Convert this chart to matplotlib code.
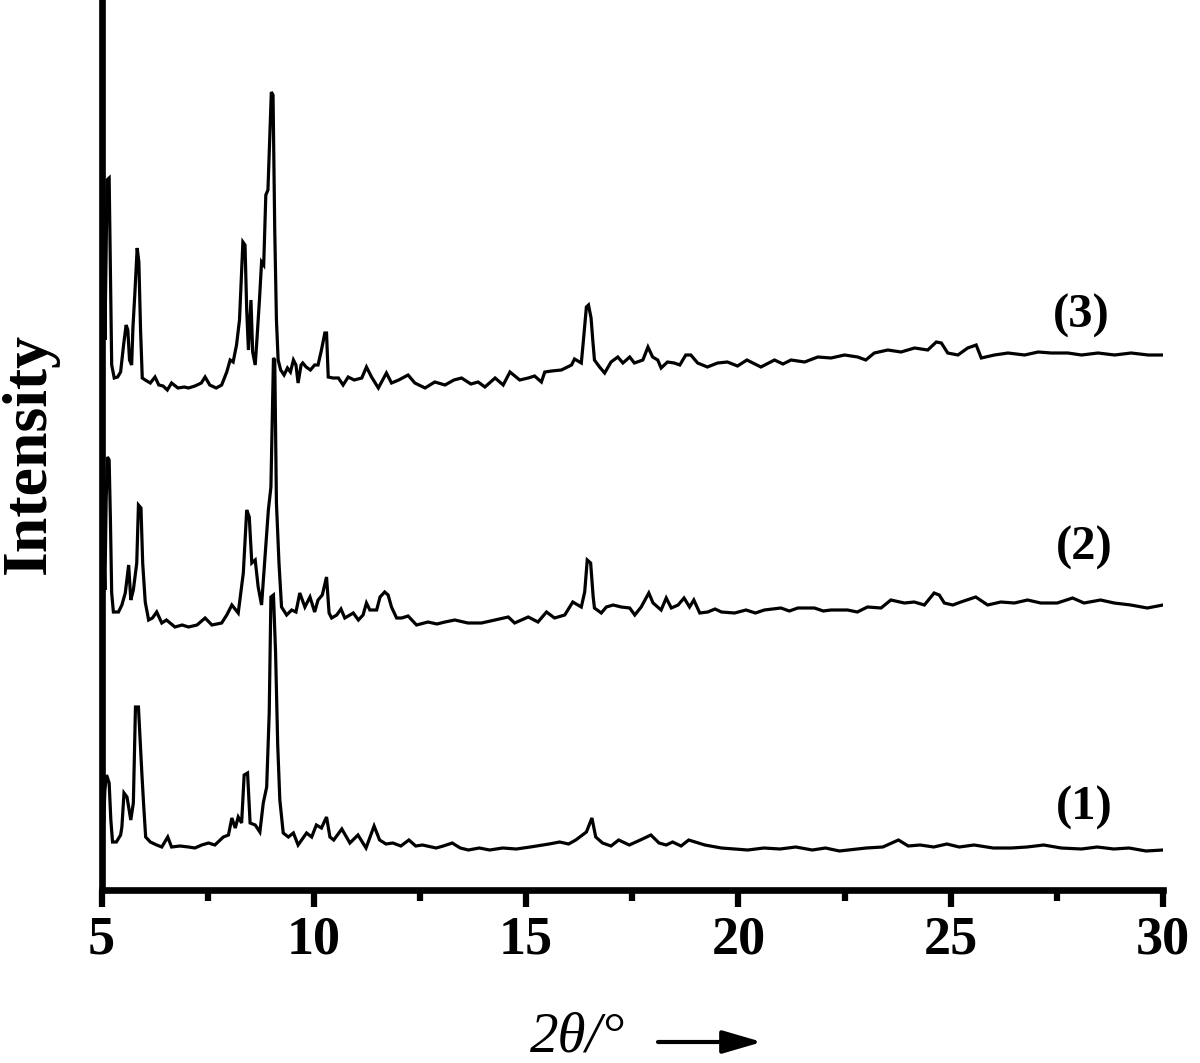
import numpy as np
import matplotlib
matplotlib.use("Agg")
import matplotlib.pyplot as plt
from matplotlib.ticker import MultipleLocator

# ---- data: (2theta, intensity a.u. above each trace's own baseline) ----
pattern1 = [
    (5.00, 50), (5.02, 75), (5.05, 27), (5.08, 60), (5.12, 75), (5.18, 67), (5.22, 30), (5.26, 8),
    (5.35, 8), (5.45, 15), (5.48, 23), (5.53, 57), (5.60, 53), (5.69, 30), (5.75, 47), (5.80, 143),
    (5.87, 143), (5.91, 110), (5.95, 77), (5.99, 47), (6.04, 13), (6.15, 8), (6.30, 5), (6.42, 3),
    (6.56, 13), (6.65, 3), (6.85, 4), (7.05, 3), (7.20, 2), (7.36, 5), (7.52, 7), (7.67, 5), (7.87, 13),
    (7.99, 15), (8.07, 32), (8.15, 22), (8.22, 33), (8.30, 27), (8.36, 75), (8.44, 77), (8.50, 27),
    (8.62, 25), (8.73, 18), (8.81, 47), (8.89, 63), (8.95, 137), (8.99, 253), (9.05, 255), (9.10, 197),
    (9.15, 105), (9.20, 50), (9.28, 17), (9.40, 13), (9.52, 17), (9.63, 5), (9.83, 17), (9.95, 13),
    (10.06, 25), (10.18, 22), (10.30, 33), (10.38, 13), (10.47, 10), (10.66, 21), (10.85, 7),
    (11.04, 15), (11.23, 2), (11.42, 24), (11.55, 10), (11.70, 6), (11.86, 7), (12.05, 4), (12.24, 10),
    (12.40, 4), (12.56, 5), (12.88, 2), (13.05, 4), (13.26, 7), (13.45, 2), (13.64, 0), (13.90, 2),
    (14.14, 0), (14.45, 2), (14.77, 1), (15.10, 3), (15.54, 6), (15.79, 8), (16.00, 6), (16.17, 10),
    (16.42, 18), (16.55, 32), (16.64, 13), (16.80, 7), (17.00, 4), (17.18, 10), (17.43, 5),
    (17.69, 10), (17.94, 15), (18.13, 7), (18.30, 5), (18.45, 8), (18.65, 4), (18.83, 10), (19.21, 5),
    (19.60, 2), (20.22, 0), (20.60, 2), (20.98, 1), (21.35, 3), (21.74, 0), (22.05, 2), (22.38, -1),
    (23.01, 2), (23.40, 3), (23.77, 10), (24.00, 4), (24.28, 5), (24.60, 3), (24.91, 6), (25.20, 3),
    (25.55, 5), (26.00, 2), (26.43, 2), (26.80, 3), (27.19, 5), (27.60, 2), (28.08, 1), (28.45, 3),
    (28.84, 1), (29.20, 2), (29.60, -1), (30.00, 0),
]

pattern2 = [
    (5.00, 65), (5.02, 225), (5.05, 85), (5.08, 35), (5.11, 125), (5.14, 168), (5.18, 165), (5.21, 105),
    (5.24, 32), (5.28, 13), (5.40, 13), (5.48, 20), (5.56, 32), (5.64, 60), (5.69, 25), (5.75, 35),
    (5.83, 62), (5.87, 120), (5.93, 117), (5.97, 62), (6.03, 23), (6.11, 5), (6.20, 7), (6.30, 13),
    (6.42, 2), (6.53, 5), (6.73, -2), (6.90, 0), (7.05, -2), (7.25, 0), (7.44, 7), (7.60, 0),
    (7.83, 2), (7.95, 10), (8.07, 20), (8.22, 12), (8.34, 52), (8.42, 115), (8.48, 108), (8.54, 62),
    (8.62, 65), (8.69, 38), (8.77, 20), (8.85, 68), (8.93, 115), (8.99, 138), (9.05, 267), (9.08, 265),
    (9.12, 122), (9.18, 62), (9.24, 18), (9.36, 10), (9.48, 15), (9.58, 13), (9.67, 32), (9.79, 18),
    (9.91, 28), (10.02, 13), (10.10, 25), (10.20, 30), (10.30, 48), (10.36, 12), (10.42, 7),
    (10.54, 10), (10.64, 16), (10.73, 7), (10.85, 10), (10.93, 12), (11.05, 5), (11.16, 10),
    (11.24, 22), (11.32, 15), (11.48, 15), (11.56, 28), (11.67, 33), (11.75, 30), (11.83, 18),
    (11.95, 7), (12.07, 7), (12.22, 9), (12.42, 0), (12.69, 3), (12.90, 1), (13.09, 3), (13.32, 5),
    (13.63, 2), (13.95, 2), (14.26, 5), (14.58, 8), (14.73, 2), (15.05, 8), (15.28, 3), (15.48, 13),
    (15.67, 7), (15.91, 10), (16.10, 23), (16.30, 18), (16.38, 33), (16.44, 65), (16.52, 62),
    (16.58, 28), (16.61, 17), (16.77, 12), (16.89, 18), (17.05, 20), (17.24, 18), (17.44, 17),
    (17.56, 10), (17.71, 18), (17.89, 32), (17.99, 22), (18.18, 15), (18.30, 27), (18.42, 17),
    (18.58, 20), (18.72, 27), (18.85, 18), (18.95, 25), (19.09, 12), (19.28, 13), (19.45, 16),
    (19.60, 13), (19.91, 12), (20.18, 15), (20.40, 12), (20.61, 15), (21.00, 17), (21.20, 14),
    (21.40, 17), (21.79, 17), (22.00, 14), (22.18, 15), (22.57, 15), (22.80, 13), (23.04, 18),
    (23.36, 17), (23.59, 25), (23.91, 22), (24.14, 23), (24.38, 20), (24.61, 32), (24.73, 30),
    (24.85, 22), (25.05, 20), (25.24, 23), (25.59, 28), (25.87, 20), (26.18, 23), (26.50, 22),
    (26.81, 25), (27.12, 22), (27.51, 22), (27.87, 27), (28.14, 22), (28.53, 25), (28.85, 22),
    (29.24, 20), (29.63, 17), (30.00, 20),
]

pattern3 = [
    (5.00, 60), (5.02, 400), (5.05, 140), (5.08, 50), (5.11, 140), (5.13, 210), (5.18, 212), (5.22, 90),
    (5.24, 25), (5.30, 12), (5.38, 13), (5.45, 18), (5.52, 45), (5.58, 65), (5.62, 60), (5.66, 30),
    (5.71, 25), (5.74, 62), (5.79, 100), (5.84, 142), (5.88, 128), (5.92, 60), (5.96, 12), (6.03, 10),
    (6.15, 7), (6.26, 13), (6.35, 5), (6.45, 4), (6.55, 0), (6.65, 7), (6.80, 2), (6.95, 3), (7.05, 2),
    (7.20, 4), (7.35, 7), (7.44, 13), (7.55, 5), (7.70, 2), (7.83, 5), (7.95, 18), (8.03, 30),
    (8.10, 28), (8.18, 45), (8.25, 70), (8.33, 148), (8.38, 145), (8.42, 80), (8.46, 40), (8.52, 90),
    (8.56, 38), (8.62, 25), (8.66, 50), (8.72, 90), (8.77, 128), (8.82, 125), (8.87, 195), (8.92, 200),
    (8.96, 250), (9.00, 298), (9.04, 295), (9.08, 160), (9.12, 70), (9.16, 30), (9.22, 20), (9.30, 15),
    (9.38, 22), (9.45, 18), (9.52, 30), (9.58, 25), (9.63, 7), (9.70, 25), (9.74, 27), (9.82, 23),
    (9.92, 20), (10.02, 25), (10.10, 25), (10.18, 40), (10.26, 57), (10.30, 57), (10.34, 13),
    (10.45, 12), (10.58, 12), (10.69, 5), (10.81, 13), (10.95, 10), (11.13, 12), (11.24, 23),
    (11.36, 13), (11.52, 2), (11.71, 17), (11.83, 7), (12.00, 10), (12.22, 15), (12.38, 7),
    (12.62, 2), (12.85, 8), (13.09, 5), (13.30, 10), (13.48, 12), (13.70, 6), (13.87, 8), (14.03, 3),
    (14.27, 12), (14.46, 5), (14.62, 18), (14.85, 10), (15.05, 12), (15.20, 14), (15.36, 8),
    (15.44, 18), (15.60, 19), (15.83, 20), (16.07, 25), (16.14, 31), (16.30, 27), (16.34, 45),
    (16.42, 83), (16.47, 85), (16.53, 72), (16.57, 50), (16.61, 30), (16.73, 23), (16.85, 17),
    (17.00, 28), (17.16, 33), (17.28, 27), (17.44, 33), (17.55, 27), (17.75, 30), (17.87, 43),
    (17.98, 33), (18.10, 30), (18.18, 22), (18.33, 28), (18.49, 27), (18.62, 25), (18.76, 35),
    (18.88, 35), (19.04, 27), (19.27, 23), (19.51, 27), (19.74, 28), (19.98, 24), (20.20, 30),
    (20.53, 23), (20.85, 30), (21.05, 26), (21.24, 30), (21.56, 28), (21.87, 33), (22.18, 32),
    (22.50, 35), (22.81, 33), (23.00, 30), (23.20, 37), (23.52, 40), (23.83, 38), (24.15, 42),
    (24.46, 40), (24.66, 48), (24.78, 47), (24.93, 37), (25.17, 35), (25.40, 42), (25.60, 45),
    (25.72, 32), (26.03, 35), (26.35, 37), (26.74, 35), (27.06, 38), (27.37, 37), (27.76, 37),
    (28.08, 35), (28.47, 37), (28.86, 35), (29.25, 37), (29.65, 35), (30.00, 35),
]

offsets = [40, 265, 500]            # vertical stacking offsets (a.u.)
labels = ["(1)", "(2)", "(3)"]
label_pos = [(28.15, 82), (28.15, 342), (28.07, 574)]
x_ticks = [5, 10, 15, 20, 25, 30]

# ---- figure ----
W, H = 1200, 1063
fig = plt.figure(figsize=(W / 100, H / 100), dpi=100)
ax = fig.add_axes([101.5 / W, 1 - 890 / H, (1163 - 101.5) / W, 890 / H])

serif = ["Liberation Serif", "DejaVu Serif"]

for pat, off in zip([pattern1, pattern2, pattern3], offsets):
    arr = np.array(pat, dtype=float)
    ax.plot(arr[:, 0], arr[:, 1] + off, color="black", lw=2.3, solid_joinstyle="miter")

for lab, (lx, ly) in zip(labels, label_pos):
    ax.text(lx, ly, lab, ha="center", va="center", fontsize=35, fontweight="bold",
            family=serif)

ax.set_xlim(5, 30)
ax.set_ylim(0, 890)
ax.set_yticks([])
ax.set_xticks(x_ticks)
ax.xaxis.set_minor_locator(MultipleLocator(2.5))
ax.tick_params(axis="x", which="major", direction="out", length=12, width=4.5, pad=6,
               labelsize=39)
ax.tick_params(axis="x", which="minor", direction="out", length=8, width=4.5)
for t in ax.get_xticklabels():
    t.set_fontfamily(serif)
    t.set_fontweight("bold")

for s in ["top", "right"]:
    ax.spines[s].set_visible(False)
for s in ["left", "bottom"]:
    ax.spines[s].set_linewidth(4.8)
    ax.spines[s].set_capstyle("projecting")

# y label
fig.text(30 / W, 1 - 453 / H, "Intensity", rotation=90, ha="center", va="center",
         fontsize=46, fontweight="bold", family=serif)

# x label with arrow
fig.text(530 / W, 12 / H, "2\u03b8/\u00b0", ha="left", va="baseline", fontsize=41,
         fontstyle="italic", family=serif)
ax.annotate("", xy=(762, H - 1042), xytext=(658, H - 1042), xycoords="figure pixels",
            textcoords="figure pixels",
            arrowprops=dict(arrowstyle="-|>,head_length=1.2,head_width=0.35", lw=3,
                            color="black", mutation_scale=20, shrinkA=0, shrinkB=0))

fig.savefig("out.png", dpi=100)
